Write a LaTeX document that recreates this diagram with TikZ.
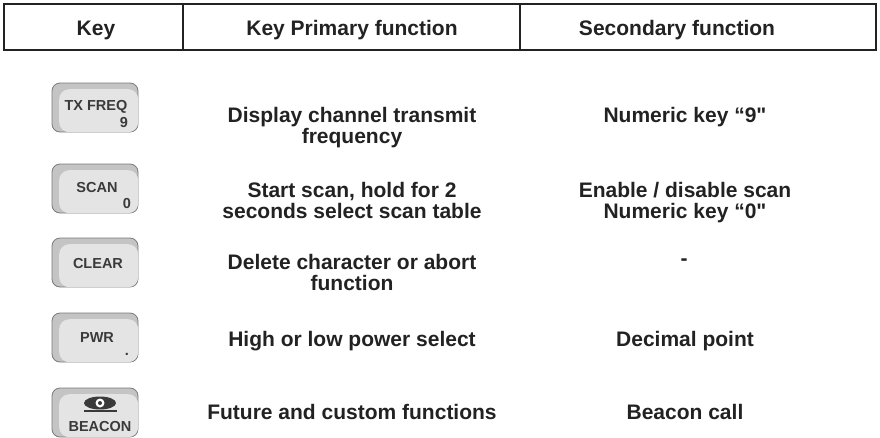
\documentclass[tikz,border=0pt]{standalone}
\usepackage{fontspec}
\setmainfont{Liberation Sans}
\usetikzlibrary{positioning}

\definecolor{ink}{HTML}{222222}
\definecolor{keyink}{HTML}{3A3A3A}
\definecolor{keyface}{HTML}{E4E4E4}
\definecolor{keyside}{HTML}{C4C4C4}
\definecolor{keyedge}{HTML}{7A7A7A}
\newcommand{\strq}{\XeTeXglyph\XeTeXcharglyph"22\relax}

\begin{document}
\begin{tikzpicture}[x=1pt,y=-1pt,
  hdr/.style={font=\fontsize{21}{22}\selectfont\bfseries, text=ink, inner sep=0, anchor=base},
  txt/.style={font=\fontsize{21}{21}\selectfont\bfseries, text=ink, align=center, inner sep=0, anchor=north},
  klbl/.style={font=\fontsize{14.5}{15}\selectfont\bfseries, text=keyink, inner sep=0},
  keyside/.style={fill=keyside, draw=keyedge, line width=0.8pt, rounded corners=8pt},
  keyface/.style={fill=keyface, rounded corners=10pt, inner sep=0, anchor=north west, minimum width=79pt, minimum height=43pt}]
\useasboundingbox (0,0) rectangle (880,437);

\draw[line width=2.4pt, draw=ink] (4,4) rectangle (876,50);
\draw[line width=2pt, draw=ink] (183,4) -- (183,50);
\draw[line width=2pt, draw=ink] (520,4) -- (520,50);

\node[hdr] (hkey) at (96,35) {Key};
\node[hdr] (hprim) at (352,35) {Key Primary function};
\node[hdr] (hsec) at (677,35) {Secondary function};

\foreach \t [count=\i] in {83,164,238,313,388} {
  \path[keyside] (52,\t) rectangle (138,\t+49);
  \node[keyface] (k\i) at (59,\t+6) {};
}

\node[klbl] (ktx) at (96,107) {TX FREQ};
\node[klbl, anchor=base] (knine) at (124,127) {9};
\node[klbl] (kscan) at (97,188) {SCAN};
\node[klbl, anchor=base] (kzero) at (127,208) {0};
\node[klbl] (kclear) at (98,264) {CLEAR};
\node[klbl] (kpwr) at (97,338) {PWR};
\node[klbl, anchor=base] (kdot) at (127,355) {.};
\fill[keyink] (100,403) ellipse (16pt and 6.5pt);
\fill[white] (100,403) circle (4.5pt);
\fill[keyink] (100,403) circle (2pt);
\draw[keyink, line width=1.3pt] (84,411) -- (117,411);
\node[klbl] (kbeacon) at (100,426) {BEACON};

\node[txt] (p1) at (352,107) {Display channel transmit\\frequency};
\node[txt] (s1) at (685,107) {Numeric key “9\strq};
\node[txt] (p2) at (352,182) {Start scan, hold for 2\\seconds select scan table};
\node[txt] (s2) at (685,182) {Enable / disable scan\\Numeric key “0\strq};
\node[txt] (p3) at (352,254) {Delete character or abort\\function};
\node[txt, anchor=center] (s3) at (684,262) {-};
\node[txt] (p4) at (352,331) {High or low power select};
\node[txt] (s4) at (685,331) {Decimal point};
\node[txt] (p5) at (352,404) {Future and custom functions};
\node[txt] (s5) at (685,404) {Beacon call};

\end{tikzpicture}
\end{document}
